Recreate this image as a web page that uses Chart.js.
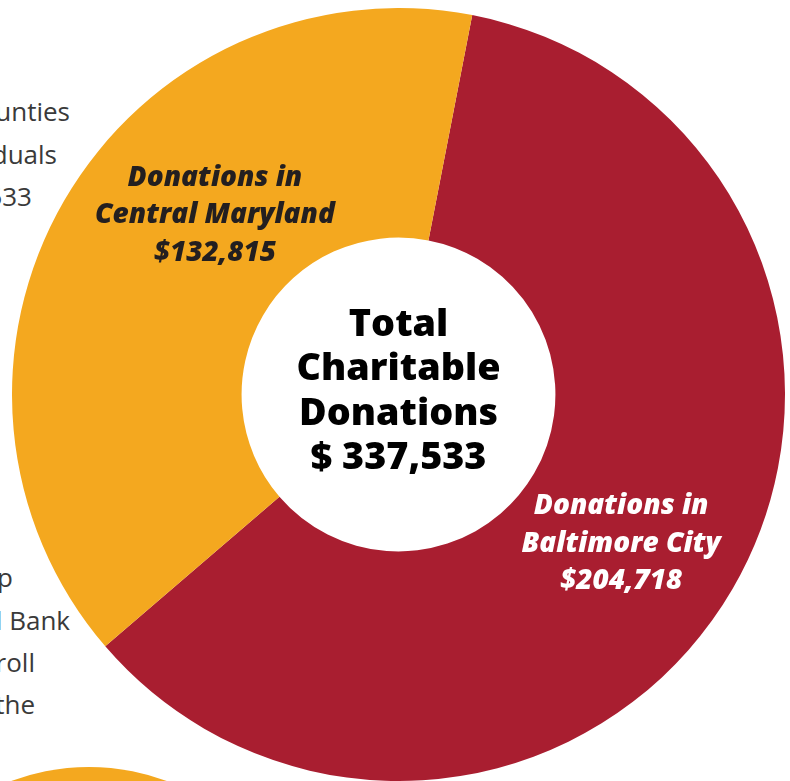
<!DOCTYPE html>
<html>
<head>
<meta charset="utf-8">
<script src="https://cdn.jsdelivr.net/npm/chart.js@4"></script>
<style>
  html, body { margin: 0; padding: 0; background: #ffffff; width: 790px; height: 781px; overflow: hidden; }
  #wrap { position: relative; width: 790px; height: 781px; overflow: hidden; }
  .frag { position: absolute; font-family: "Open Sans", "Lato", sans-serif; font-size: 26px; color: #3a3a3a; white-space: nowrap; text-align: right; line-height: 1; }
  #blob { position: absolute; left: -134px; top: 767px; width: 446px; height: 446px; border-radius: 50%; background: #F4A81F; }
  #chartBox { position: absolute; left: 12px; top: 8px; width: 773px; height: 773px; }
</style>
</head>
<body>
<div id="wrap">
  <div class="frag" style="right:720px; top:98px;">Counties</div>
  <div class="frag" style="right:733px; top:141px;">iduals</div>
  <div class="frag" style="right:758px; top:183px;">533</div>
  <div class="frag" style="right:777px; top:564px;">up</div>
  <div class="frag" style="right:720px; top:607px;">d Bank</div>
  <div class="frag" style="right:755px; top:649px;">roll</div>
  <div class="frag" style="right:755px; top:691px;">the</div>
  <div id="blob"></div>
  <div id="chartBox"><canvas id="c" width="773" height="773"></canvas></div>
</div>
<script>
const categories = ["Donations in Baltimore City", "Donations in Central Maryland"];
const labelLines = [["Donations in", "Baltimore City"], ["Donations in", "Central Maryland"]];
const values = [204718, 132815];
const colors = ["#A91E30", "#F4A81F"];
const labelColors = ["#ffffff", "#231f20"];
const centerLines = ["Total", "Charitable", "Donations", "$ 337,533"];

function fmt(v) { return "$" + v.toLocaleString("en-US"); }

function fitFont(ctx, style, family, text, target) {
  ctx.font = style + " 40px " + family;
  const w = ctx.measureText(text).width;
  const size = 40 * target / w;
  return style + " " + size.toFixed(2) + "px " + family;
}

const labelPlugin = {
  id: "segLabels",
  afterDatasetsDraw(chart, args, opts) {
    const ctx = chart.ctx;
    const meta = chart.getDatasetMeta(0);
    const arc0 = meta.data[0];
    const cx = arc0.x, cy = arc0.y, R = arc0.outerRadius;
    const fam = "'Open Sans', Lato, sans-serif";
    ctx.save();
    ctx.textAlign = "center";
    ctx.textBaseline = "alphabetic";
    ctx.fillStyle = "#000000";
    ctx.font = fitFont(ctx, "800", fam, "Charitable", 204);
    const cBase = [-59, -15, 30, 74];
    centerLines.forEach((t, i) => ctx.fillText(t, cx, cy + cBase[i]));
    ctx.font = fitFont(ctx, "italic 800", fam, "Central Maryland", 240);
    const offsets = opts.offsets;
    meta.data.forEach((arc, i) => {
      const o = offsets[i];
      const lx = cx + o[0] * R, ly = cy + o[1] * R;
      const lines = labelLines[i].concat([fmt(values[i])]);
      ctx.fillStyle = labelColors[i];
      lines.forEach((t, j) => ctx.fillText(t, lx, ly + j * 37.5));
    });
    ctx.restore();
  }
};

new Chart(document.getElementById("c"), {
  type: "doughnut",
  data: {
    labels: categories,
    datasets: [{
      data: values,
      backgroundColor: colors,
      borderWidth: 0,
      hoverOffset: 0
    }]
  },
  options: {
    responsive: false,
    animation: false,
    rotation: 11,
    cutout: "40.6%",
    layout: { padding: 0 },
    plugins: {
      legend: { display: false },
      tooltip: { enabled: false },
      segLabels: { offsets: [[0.576, 0.31], [-0.475, -0.54]] }
    }
  },
  plugins: [labelPlugin]
});
</script>
</body>
</html>
